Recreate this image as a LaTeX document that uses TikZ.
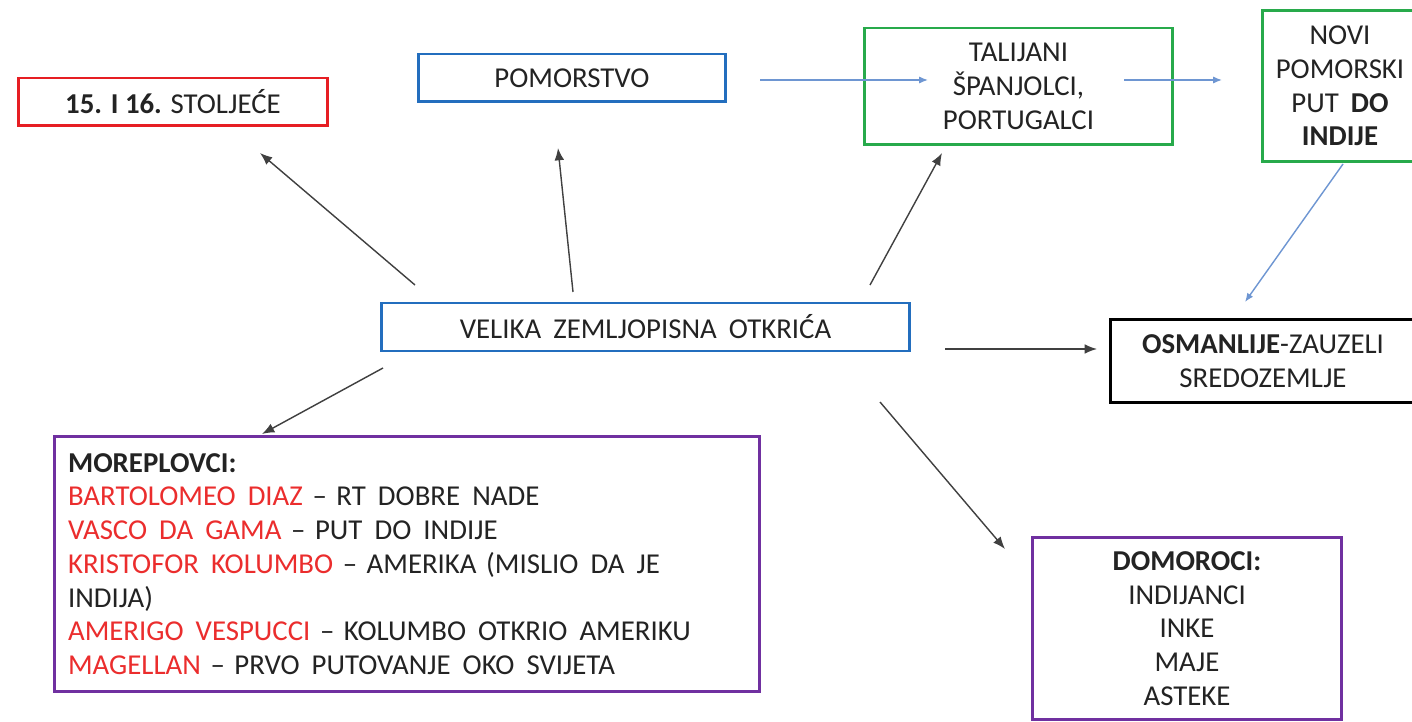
\documentclass[tikz,border=0pt]{standalone}
\usepackage{fontspec}
\setmainfont{Carlito}
\usetikzlibrary{arrows.meta}
\definecolor{redb}{RGB}{230,30,35}
\definecolor{blueb}{RGB}{35,110,190}
\definecolor{greenb}{RGB}{40,170,75}
\definecolor{purpleb}{RGB}{112,48,160}
\definecolor{txtred}{RGB}{235,45,45}
\definecolor{arrblue}{RGB}{110,150,210}
\definecolor{txt}{RGB}{35,35,35}
\newcommand{\dsp}{\hspace{0.42em}}
\begin{document}
\begin{tikzpicture}[x=0.02cm,y=-0.02cm,
  box/.style={draw, line width=1.7pt, text=txt, align=center, inner sep=0pt,
    font=\fontsize{16.4pt}{19.2pt}\selectfont},
  blk/.style={draw=black!75, line width=0.8pt, -{Latex[length=7pt,width=5.5pt]}},
  blu/.style={draw=arrblue, line width=0.8pt, -{Latex[length=5pt,width=4pt]}}]
\useasboundingbox (0,0) rectangle (1412,722);
\clip (0,0) rectangle (1412,722);
\fill[white] (0,0) rectangle (1412,722);
% boxes
\node[box, draw=redb, minimum width=6.2cm, minimum height=0.96cm] (stol) at (173,102)
  {\textbf{15. I 16.} STOLJEĆE};
\node[box, draw=blueb, minimum width=6.16cm, minimum height=0.96cm] (pom) at (572,78)
  {POMORSTVO};
\node[box, draw=greenb, minimum width=6.18cm, minimum height=2.34cm] (tal) at (1018.5,86.5)
  {TALIJANI\\ŠPANJOLCI,\\PORTUGALCI};
\node[box, draw=greenb, minimum width=3.1cm, minimum height=3.04cm] (novi) at (1340,86)
  {NOVI\\POMORSKI\\PUT\dsp\textbf{DO}\\\textbf{INDIJE}};
\node[box, draw=blueb, minimum width=10.58cm, minimum height=0.96cm] (vel) at (645.5,327)
  {VELIKA\dsp ZEMLJOPISNA\dsp OTKRIĆA};
\node[box, draw=black, minimum width=6.1cm, minimum height=1.68cm] (osm) at (1263,361)
  {\textbf{OSMANLIJE}-ZAUZELI\\SREDOZEMLJE};
\node[box, draw=purpleb, minimum width=14.12cm, minimum height=5.12cm, align=left,
  text width=13.56cm] (more) at (407,564)
  {\textbf{MOREPLOVCI:}\\
   \textcolor{txtred}{BARTOLOMEO\dsp DIAZ} -- RT\dsp DOBRE\dsp NADE\\
   \textcolor{txtred}{VASCO\dsp DA\dsp GAMA} -- PUT\dsp DO\dsp INDIJE\\
   \textcolor{txtred}{KRISTOFOR\dsp KOLUMBO} -- AMERIKA (MISLIO\dsp DA\dsp JE\\
   INDIJA)\\
   \textcolor{txtred}{AMERIGO\dsp VESPUCCI} -- KOLUMBO\dsp OTKRIO\dsp AMERIKU\\
   \textcolor{txtred}{MAGELLAN} -- PRVO\dsp PUTOVANJE\dsp OKO\dsp SVIJETA};
\node[box, draw=purpleb, minimum width=6.18cm, minimum height=3.66cm] (dom) at (1187,628.5)
  {\textbf{DOMOROCI:}\\INDIJANCI\\INKE\\MAJE\\ASTEKE};
% connector end points
\coordinate (v1) at (415,285);  \coordinate (s1) at (260,153);
\coordinate (v2) at (573,292);  \coordinate (p1) at (558,148);
\coordinate (v3) at (870,285);  \coordinate (t1) at (942,153);
\coordinate (p2) at (760,80);   \coordinate (t2) at (928,80);
\coordinate (t3) at (1124,80);  \coordinate (n1) at (1222,80);
\coordinate (n2) at (1343,164); \coordinate (o1) at (1245,302);
\coordinate (v4) at (945,349);  \coordinate (o2) at (1097,349);
\coordinate (v5) at (383,368);  \coordinate (m1) at (262,434);
\coordinate (v6) at (880,402);  \coordinate (d1) at (1005,549);
% connectors
\draw[blk] (v1) -- (s1);
\draw[blk] (v2) -- (p1);
\draw[blk] (v3) -- (t1);
\draw[blu] (p2) -- (t2);
\draw[blu] (t3) -- (n1);
\draw[blu] (n2) -- (o1);
\draw[blk] (v4) -- (o2);
\draw[blk] (v5) -- (m1);
\draw[blk] (v6) -- (d1);
\end{tikzpicture}
\end{document}
